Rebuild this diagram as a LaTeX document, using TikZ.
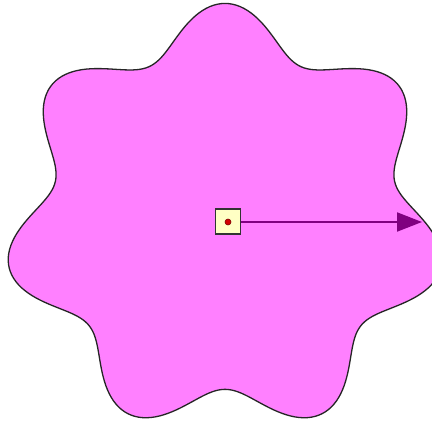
\documentclass[tikz,border=0pt]{standalone}
\usetikzlibrary{arrows.meta}
\definecolor{blobfill}{RGB}{255,128,255}
\definecolor{boxfill}{RGB}{255,255,196}
\definecolor{arrowcol}{RGB}{128,0,128}
\definecolor{dotred}{RGB}{210,0,0}
\begin{document}
\begin{tikzpicture}[x=1pt,y=-1pt,
  blob/.style={fill=blobfill,draw=black!85,line width=1.3pt},
  handle/.style={draw=black!80,fill=boxfill,line width=1.4pt,minimum size=25pt,inner sep=0pt,outer sep=0pt},
  dotmark/.style={circle,fill=dotred,draw=dotred!60!black,line width=0.6pt,minimum size=6pt,inner sep=0pt},
  vec/.style={draw=arrowcol,line width=2pt,-{Triangle[length=25pt,width=19pt]}}
]
\useasboundingbox (0,0) rectangle (432,423);
\fill[white] (0,0) rectangle (432,423);
\clip (0,0) rectangle (432,423);
\draw[blob] plot[variable=\t,domain=0:360,samples=361]
  ({225+1.03*(192+23*cos(7*(\t-90)))*cos(\t)},{219.5-1.005*(192+23*cos(7*(\t-90)))*sin(\t)}) -- cycle;
\node[handle] (h) at (228,221.5) {};
\node[dotmark] (d) at (228,222) {};
\coordinate (tip) at (422,222);
\draw[vec] (h.east |- d) -- (tip);
\end{tikzpicture}
\end{document}
